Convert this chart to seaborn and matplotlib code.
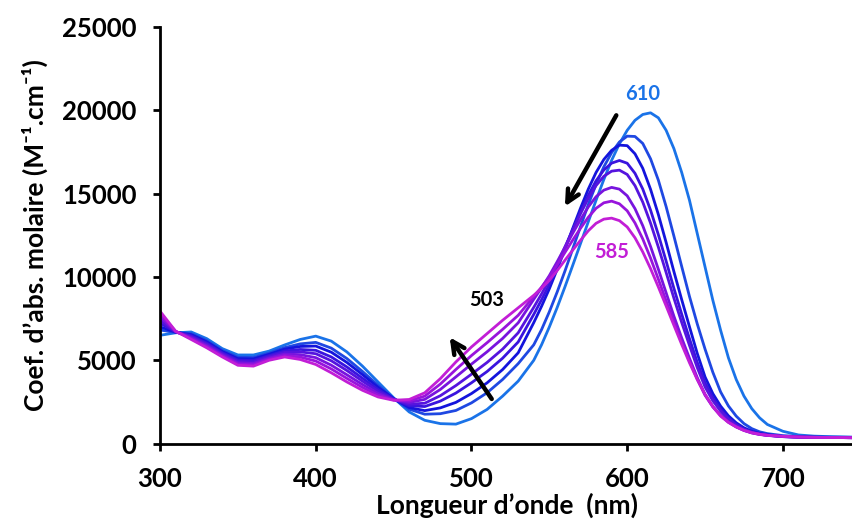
import numpy as np
import pandas as pd
import matplotlib
matplotlib.use('Agg')
import matplotlib.pyplot as plt
import seaborn as sns

# longueurs d'onde (nm) : pas de 10 nm, pas de 5 nm dans la bande visible
nm = list(range(300, 540, 10)) + list(range(540, 690, 5)) + list(range(690, 751, 10))

# spectres (M-1.cm-1), du bleu (610) au magenta (585)
s610 = [6500, 6650, 6700, 6300, 5700, 5320, 5320, 5550, 5920, 6250, 6450, 6150, 5500, 4650, 3700, 2750,
        1900, 1400, 1200, 1170, 1500, 2050, 2850, 3750,
        5000, 5930, 7000, 8160, 9400, 10690, 12000, 13310, 14600, 15850, 17000, 17990, 18800, 19400, 19750,
        19850, 19550, 18800, 17700, 16270, 14600, 12600, 10600, 8600, 6800, 5150, 3850, 2850, 2100, 1550,
        1150, 740, 520, 450, 420, 400, 380]
s603 = [6820, 6670, 6600, 6180, 5590, 5180, 5170, 5430, 5760, 5985, 6075, 5730, 5105, 4330, 3500, 2715,
        2065, 1765, 1795, 1990, 2445, 3050, 3850, 4800,
        5930, 6840, 7910, 9090, 10350, 11680, 13020, 14340, 15560, 16610, 17460, 18100, 18450, 18430, 18010,
        17090, 15810, 14220, 12450, 10630, 8830, 7180, 5670, 4280, 3100, 2260, 1650, 1200, 900, 710,
        600, 480, 430, 400, 390, 380, 370]
s598 = [7010, 6685, 6540, 6110, 5525, 5100, 5085, 5360, 5670, 5830, 5855, 5485, 4870, 4140, 3385, 2700,
        2165, 1980, 2145, 2475, 3005, 3645, 4445, 5450,
        7260, 8240, 9290, 10450, 11670, 12910, 14125, 15270, 16270, 17050, 17600, 17910, 17880, 17390, 16520,
        15260, 13750, 12070, 10320, 8640, 7010, 5410, 4000, 3000, 2250, 1670, 1250, 950, 750, 620,
        540, 430, 400, 385, 375, 365, 355]
s596 = [7225, 6700, 6475, 6025, 5450, 5010, 4985, 5275, 5560, 5650, 5600, 5200, 4600, 3925, 3250, 2675,
        2275, 2225, 2550, 3035, 3650, 4325, 5125, 6100,
        7755, 8630, 9565, 10610, 11710, 12820, 13890, 14900, 15770, 16420, 16830, 16990, 16825, 16220, 15275,
        14010, 12540, 10950, 9315, 7770, 6295, 4880, 3650, 2740, 2050, 1530, 1150, 880, 700, 590,
        520, 420, 395, 380, 370, 360, 350]
s594 = [7400, 6710, 6420, 5960, 5390, 4935, 4905, 5210, 5475, 5505, 5395, 4970, 4385, 3750, 3140, 2655,
        2365, 2425, 2875, 3485, 4165, 4870, 5670, 6650,
        8180, 8980, 9830, 10790, 11800, 12810, 13790, 14710, 15485, 16040, 16350, 16410, 16150, 15480, 14490,
        13230, 11795, 10270, 8725, 7270, 5890, 4560, 3400, 2570, 1950, 1460, 1100, 850, 680, 570,
        500, 420, 390, 375, 365, 360, 350]
s592 = [7600, 6725, 6360, 5880, 5320, 4850, 4810, 5130, 5375, 5340, 5160, 4705, 4130, 3550, 3015, 2635,
        2470, 2655, 3250, 4005, 4770, 5510, 6310, 7250,
        8660, 9350, 10080, 10910, 11770, 12620, 13440, 14200, 14815, 15210, 15375, 15270, 14870, 14100, 13075,
        11830, 10465, 9050, 7645, 6340, 5120, 3960, 2950, 2230, 1700, 1290, 1000, 790, 640, 550,
        490, 420, 390, 375, 365, 360, 350]
s591 = [7780, 6740, 6300, 5820, 5260, 4775, 4730, 5065, 5285, 5195, 4955, 4480, 3915, 3375, 2910, 2620,
        2560, 2850, 3575, 4450, 5285, 6055, 6855, 7700,
        8830, 9390, 10000, 10720, 11470, 12210, 12920, 13580, 14120, 14450, 14550, 14390, 13970, 13240, 12280,
        11130, 9870, 8570, 7285, 6090, 4960, 3860, 2900, 2200, 1680, 1300, 1020, 810, 660, 560,
        500, 430, 395, 380, 370, 360, 350]
s585 = [7950, 6750, 6250, 5750, 5200, 4700, 4650, 5000, 5200, 5050, 4750, 4250, 3700, 3200, 2800, 2600,
        2650, 3050, 3900, 4900, 5800, 6600, 7400, 8150,
        8900, 9320, 9800, 10380, 11000, 11610, 12200, 12770, 13220, 13470, 13530, 13380, 13000, 12350, 11500,
        10500, 9400, 8260, 7100, 5950, 4850, 3840, 2950, 2220, 1650, 1270, 1000, 790, 650, 560,
        500, 440, 400, 380, 370, 360, 350]

series = [s610, s603, s598, s596, s594, s592, s591, s585]
noms = ['610', '603', '598', '596', '594', '592', '591', '585']
couleurs = ['#1a73e8', '#1f48e2', '#1414dc', '#3a14de', '#5514de', '#7814de', '#9814dc', '#c21ed6']

df = pd.concat([pd.DataFrame({'nm': nm, 'eps': s, 'courbe': n}) for s, n in zip(series, noms)])

sns.set_theme(style='white')
plt.rcParams['font.family'] = ['Lato', 'DejaVu Sans']
plt.rcParams['font.weight'] = 'bold'
plt.rcParams['text.color'] = 'black'
plt.rcParams['axes.labelcolor'] = 'black'

fig = plt.figure(figsize=(8.53, 5.25), dpi=100)
ax = fig.add_axes([0.1876, 0.155, 0.8124, 0.7936])

sns.lineplot(data=df, x='nm', y='eps', hue='courbe', hue_order=noms, palette=couleurs,
             estimator=None, legend=False, lw=2.0, ax=ax)

ax.set_xlim(300, 745)
ax.set_ylim(0, 25000)
ax.set_xticks([300, 400, 500, 600, 700])
ax.set_yticks([0, 5000, 10000, 15000, 20000, 25000])
for sp in ['top', 'right']:
    ax.spines[sp].set_visible(False)
for sp in ['left', 'bottom']:
    ax.spines[sp].set_color('black')
    ax.spines[sp].set_linewidth(2)
ax.tick_params(axis='both', direction='out', length=5, width=2, color='black',
               labelsize=18.5, labelcolor='black')
ax.tick_params(axis='x', pad=12, bottom=True)
ax.tick_params(axis='y', pad=12, left=True)
for lab in ax.get_xticklabels() + ax.get_yticklabels():
    lab.set_fontweight('bold')

ax.set_xlabel('Longueur d’onde  (nm)', fontsize=19, fontweight='bold', color='black', labelpad=1)
ax.set_ylabel('Coef. d’abs. molaire (M⁻¹.cm⁻¹)', fontsize=19, fontweight='bold', color='black',
              labelpad=10)

# fleches et annotations
fleche = dict(arrowstyle='->', lw=3.2, color='black', mutation_scale=22, shrinkA=0, shrinkB=0)
ax.annotate('', xy=(560, 14230), xytext=(593, 19700), arrowprops=fleche)
ax.annotate('', xy=(486, 6380), xytext=(513, 2680), arrowprops=fleche)
ax.text(610, 21000, '610', color='#1a73e8', fontsize=14.5, fontweight='bold', ha='center', va='center')
ax.text(590, 11470, '585', color='#c21ed6', fontsize=14.5, fontweight='bold', ha='center', va='center')
ax.text(510, 8590, '503', color='black', fontsize=14.5, fontweight='bold', ha='center', va='center')

fig.savefig('out.png', dpi=100)
